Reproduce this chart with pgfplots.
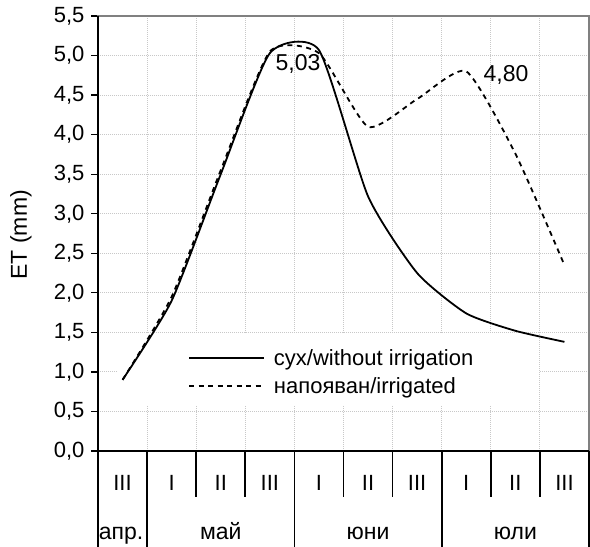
\documentclass[border=0pt]{standalone}
\usepackage{fontspec}
\setmainfont{Liberation Sans}
\usepackage{pgfplots}
\pgfplotsset{compat=1.18}
\definecolor{gridc}{RGB}{200,200,200}
\definecolor{framec}{RGB}{128,128,128}
\begin{document}
\begin{tikzpicture}
\useasboundingbox (0,0) rectangle (590pt,547pt);
\begin{axis}[
  at={(98pt,96pt)}, anchor=south west,
  scale only axis, width=491pt, height=435pt,
  xmin=0.5, xmax=10.5, ymin=0, ymax=5.5,
  clip=false,
  axis line style={draw=framec, line width=1.2pt},
  xtick={1,...,10},
  xticklabels={III,I,II,III,I,II,III,I,II,III},
  xticklabel style={anchor=base, yshift=-39pt, font=\fontsize{22}{26}\selectfont},
  xtick style={draw=none},
  minor xtick={1.5,2.5,...,9.5},
  minor x tick style={draw=none},
  xminorgrids=true,
  ytick={0,0.5,...,5.5},
  ytick pos=left,
  ytick align=outside,
  major tick length=7pt,
  ytick style={black, line width=1.2pt},
  ymajorgrids=true,
  grid style={draw=gridc, line width=1pt, dash pattern=on 1pt off 1pt},
  minor grid style={draw=gridc, line width=1pt, dash pattern=on 1pt off 1pt},
  yticklabel style={font=\fontsize{22}{26}\selectfont, xshift=-3pt},
  /pgf/number format/.cd, use comma, fixed, fixed zerofill, precision=1, assume math mode=true,
  /pgfplots/.cd,
  ylabel={ET (mm)},
  ylabel style={at={(axis description cs:-0.157,0.497)}, anchor=center, font=\fontsize{23}{27}\selectfont},
  legend style={at={(axis cs:2.333,1.311)}, anchor=north west, draw=none, fill=none,
    inner xsep=0pt, inner ysep=0pt, row sep=6.6pt, column sep=7pt,
    font=\fontsize{22}{26}\selectfont, cells={anchor=west}},
  legend image code/.code={\draw[#1] (0pt,0pt) -- (75pt,0pt);},
]
\fill[white] (axis cs:0.906,0.582) rectangle (axis cs:9.484,1.485);
\addplot[black, line width=1.8pt, smooth, tension=0.35] coordinates {
(1,0.90) (2,1.90) (3,3.50) (4,5.03) (5,5.07) (6,3.22) (7,2.25) (8,1.74) (9,1.52) (10,1.38)};
\addlegendentry{сух/without irrigation}
\addplot[black, line width=1.8pt, smooth, tension=0.35, dash pattern=on 5pt off 4.5pt] coordinates {
(1,0.90) (2,1.95) (3,3.55) (4,5.05) (5,5.03) (6,4.10) (7,4.45) (8,4.80) (9,3.76) (10,2.35)};
\addlegendentry{напояван/irrigated}
\node[anchor=base, font=\fontsize{23}{27}\selectfont] at (axis cs:4.573,4.808) {5,03};
\node[anchor=base, font=\fontsize{23}{27}\selectfont] at (axis cs:8.81,4.669) {4,80};
\draw[black, line width=2pt] (rel axis cs:0,1) -- (rel axis cs:0,0) -- (rel axis cs:1,0);
\pgfplotsinvokeforeach{2.5,3.5,5.5,6.5,8.5,9.5}{\draw[black, line width=1.6pt] (axis cs:#1,0) -- ([yshift=-46pt]axis cs:#1,0);}
\pgfplotsinvokeforeach{0.5,1.5,4.5,7.5,10.5}{\draw[black, line width=1.6pt] (axis cs:#1,0) -- ([yshift=-97pt]axis cs:#1,0);}
\node[anchor=base, yshift=-88pt, font=\fontsize{23}{27}\selectfont] at (axis cs:0.97,0) {апр.};
\node[anchor=base, yshift=-88pt, font=\fontsize{23}{27}\selectfont] at (axis cs:3,0) {май};
\node[anchor=base, yshift=-88pt, font=\fontsize{23}{27}\selectfont] at (axis cs:6,0) {юни};
\node[anchor=base, yshift=-88pt, font=\fontsize{23}{27}\selectfont] at (axis cs:9,0) {юли};
\end{axis}
\end{tikzpicture}
\end{document}
